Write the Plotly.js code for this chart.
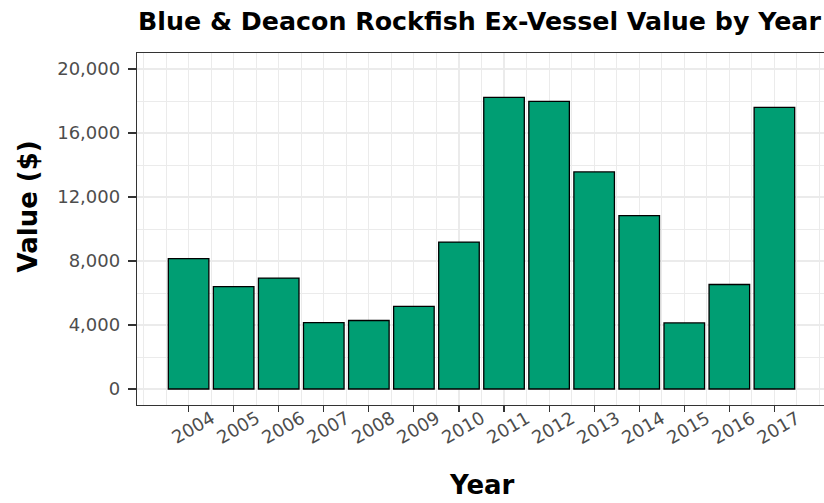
<!DOCTYPE html>
<html>
<head>
<meta charset="utf-8">
<script src="https://cdn.plot.ly/plotly-3.0.1.min.js"></script>
<style>
html,body{margin:0;padding:0;overflow:hidden;background:#fff}
#chart{width:830px;height:503px}
</style>
</head>
<body>
<div id="chart"></div>
<script>
const years = [2004, 2005, 2006, 2007, 2008, 2009, 2010, 2011, 2012, 2013, 2014, 2015, 2016, 2017];
const values = [8150, 6400, 6930, 4150, 4280, 5170, 9180, 18230, 17980, 13570, 10840, 4130, 6530, 17600];
const yTickVals = [0, 4000, 8000, 12000, 16000, 20000];
const xTickLabels = years.map(String);
const chartTitle = 'Blue & Deacon Rockfish Ex-Vessel Value by Year';
const xTitle = 'Year';
const yTitle = 'Value ($)';

const FONT = 'DejaVu Sans';
const W = 830, H = 503;

const trace = {
  type: 'bar',
  x: years,
  y: values,
  width: 0.9,
  marker: {color: '#009E73', line: {color: '#000000', width: 1.3}},
  hoverinfo: 'x+y'
};

const tickAnnotations = years.map((yr, i) => ({
  text: xTickLabels[i],
  x: yr, xref: 'x',
  y: 0, yref: 'paper',
  xanchor: 'center', yanchor: 'middle',
  xshift: 4, yshift: -22,
  textangle: -30,
  showarrow: false,
  font: {family: FONT, size: 18, color: '#4d4d4d'}
}));

const layout = {
  width: W, height: H,
  margin: {l: 137, r: 3.6, t: 53, b: 98, pad: 0},
  paper_bgcolor: '#ffffff',
  plot_bgcolor: '#ffffff',
  showlegend: false,
  title: {
    text: chartTitle,
    font: {family: FONT, size: 25.3, color: '#000000', weight: 'bold'},
    xref: 'container', x: 138 / W, xanchor: 'left',
    yref: 'container', y: 1 - 21 / H, yanchor: 'middle'
  },
  xaxis: {
    range: [2002.855, 2018.145],
    tickmode: 'array',
    tickvals: years,
    showticklabels: false,
    ticks: 'outside', ticklen: 6, tickwidth: 1.1, tickcolor: '#333333',
    showgrid: true, gridcolor: '#ebebeb', gridwidth: 1.1,
    minor: {tickmode: 'linear', tick0: 2003, dtick: 0.5, showgrid: true, gridcolor: '#ebebeb', gridwidth: 1, ticks: ''},
    zeroline: false,
    showline: true, mirror: true, linecolor: '#333333', linewidth: 1.2
  },
  yaxis: {
    range: [-1000, 21000],
    tickmode: 'array',
    tickvals: yTickVals,
    tickformat: ',d',
    ticks: 'outside', ticklen: 8, tickwidth: 1.1, tickcolor: '#333333',
    ticklabelstandoff: 4,
    tickfont: {family: FONT, size: 18, color: '#4d4d4d'},
    showgrid: true, gridcolor: '#ebebeb', gridwidth: 1.1,
    minor: {tickmode: 'linear', tick0: 0, dtick: 2000, showgrid: true, gridcolor: '#ebebeb', gridwidth: 1, ticks: ''},
    zeroline: false,
    showline: true, mirror: true, linecolor: '#333333', linewidth: 1.2
  },
  annotations: tickAnnotations.concat([
    {
      text: yTitle, textangle: -90,
      xref: 'paper', x: 0, xshift: -110, xanchor: 'center',
      yref: 'paper', y: (405 - 206.5) / 352, yanchor: 'middle',
      showarrow: false,
      font: {family: FONT, size: 26, color: '#000000', weight: 'bold'}
    },
    {
      text: xTitle,
      xref: 'paper', x: 0.5, xanchor: 'center',
      yref: 'paper', y: 0, yshift: -80, yanchor: 'middle',
      showarrow: false,
      font: {family: FONT, size: 26, color: '#000000', weight: 'bold'}
    }
  ])
};

Plotly.newPlot('chart', [trace], layout, {displayModeBar: false, staticPlot: true});
</script>
</body>
</html>
